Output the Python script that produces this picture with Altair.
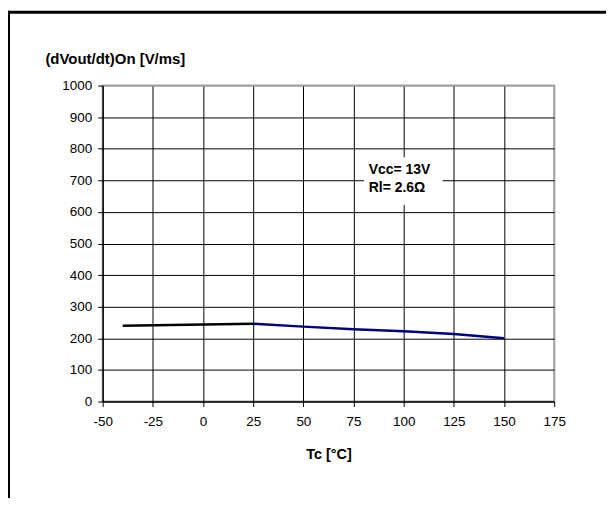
import altair as alt
import pandas as pd

# data
tc_black = [-40, 25]
dv_black = [240, 246]
tc_blue = [25, 50, 75, 100, 125, 150]
dv_blue = [246, 237, 229, 222, 214, 200]

x_ticks = [-50, -25, 0, 25, 50, 75, 100, 125, 150, 175]
y_ticks = [0, 100, 200, 300, 400, 500, 600, 700, 800, 900, 1000]

note_lines = ["Vcc= 13V", "Rl= 2.6Ω"]
note_x = [82.6, 82.6]
note_y = [733, 675]
box = {"x": [80.2], "x2": [119.4], "y": [622], "y2": [773]}

FONT = "Liberation Sans"

df = pd.DataFrame(
    {
        "tc": tc_black + tc_blue,
        "dv": dv_black + dv_blue,
        "series": ["a"] * len(tc_black) + ["b"] * len(tc_blue),
    }
)

xscale = alt.Scale(domain=[-50, 175], nice=False, zero=False)
yscale = alt.Scale(domain=[0, 1000], nice=False)

xaxis = alt.Axis(
    values=x_ticks,
    labelExpr="'' + datum.value",
    title="Tc [°C]",
    titleFont=FONT,
    titleFontSize=14.5,
    titleFontWeight="bold",
    titleColor="black",
    titleY=53,
    titleBaseline="middle",
    labelFont=FONT,
    labelFontSize=13.5,
    labelColor="black",
    labelPadding=8,
    tickColor="black",
    tickSize=5,
    domainColor="black",
    grid=True,
    gridColor={"condition": {"test": "datum.value == 175", "value": "#a0a0a0"}, "value": "#000000"},
    labelFlush=False,
    labelOverlap=False,
)
yaxis = alt.Axis(
    values=y_ticks,
    labelExpr="'' + datum.value",
    title="(dVout/dt)On [V/ms]",
    titleFont=FONT,
    titleFontSize=15,
    titleFontWeight="bold",
    titleColor="black",
    titleAngle=0,
    titleAlign="left",
    titleBaseline="middle",
    titleX=-58,
    titleY=-27,
    labelFont=FONT,
    labelFontSize=13.5,
    labelColor="black",
    labelPadding=6,
    tickColor="black",
    tickSize=5,
    domainColor="black",
    grid=True,
    gridColor={"condition": {"test": "datum.value == 1000", "value": "#a0a0a0"}, "value": "#000000"},
    labelFlush=False,
    labelOverlap=False,
)

lines = (
    alt.Chart(df)
    .mark_line(strokeWidth=2.5)
    .encode(
        x=alt.X("tc:Q", scale=xscale, axis=xaxis),
        y=alt.Y("dv:Q", scale=yscale, axis=yaxis),
        color=alt.Color(
            "series:N",
            scale=alt.Scale(domain=["a", "b"], range=["#000000", "#000080"]),
            legend=None,
        ),
    )
)

box_df = pd.DataFrame(box)
note_box = (
    alt.Chart(box_df)
    .mark_rect(color="white")
    .encode(
        x=alt.X("x:Q", scale=xscale, axis=xaxis),
        x2="x2:Q",
        y=alt.Y("y:Q", scale=yscale, axis=yaxis),
        y2="y2:Q",
    )
)

note_df = pd.DataFrame({"x": note_x, "y": note_y, "t": note_lines})
note_text = (
    alt.Chart(note_df)
    .mark_text(font=FONT, fontSize=14, fontWeight="bold", align="left", baseline="middle", color="black")
    .encode(
        x=alt.X("x:Q", scale=xscale, axis=xaxis),
        y=alt.Y("y:Q", scale=yscale, axis=yaxis),
        text="t:N",
    )
)

frame_df = pd.DataFrame({"k": [0]})
frame_left = alt.Chart(frame_df).mark_rule(color="black", strokeWidth=3).encode(
    x=alt.value(-94.5), y=alt.value(-75), y2=alt.value(430)
)
frame_top = alt.Chart(frame_df).mark_rule(color="black", strokeWidth=3).encode(
    x=alt.value(-96), x2=alt.value(520), y=alt.value(-73.5)
)

chart = (
    alt.layer(note_box, lines, note_text, frame_left, frame_top)
    .properties(
        width=453,
        height=317,
        autosize=alt.AutoSizeParams(type="none"),
        padding={"left": 95, "top": 77, "right": 52, "bottom": 96},
        background="white",
    )
    .configure_view(stroke="#a0a0a0", strokeWidth=2)
)

chart.save("out.html", embed_options={"renderer": "svg", "actions": False})
